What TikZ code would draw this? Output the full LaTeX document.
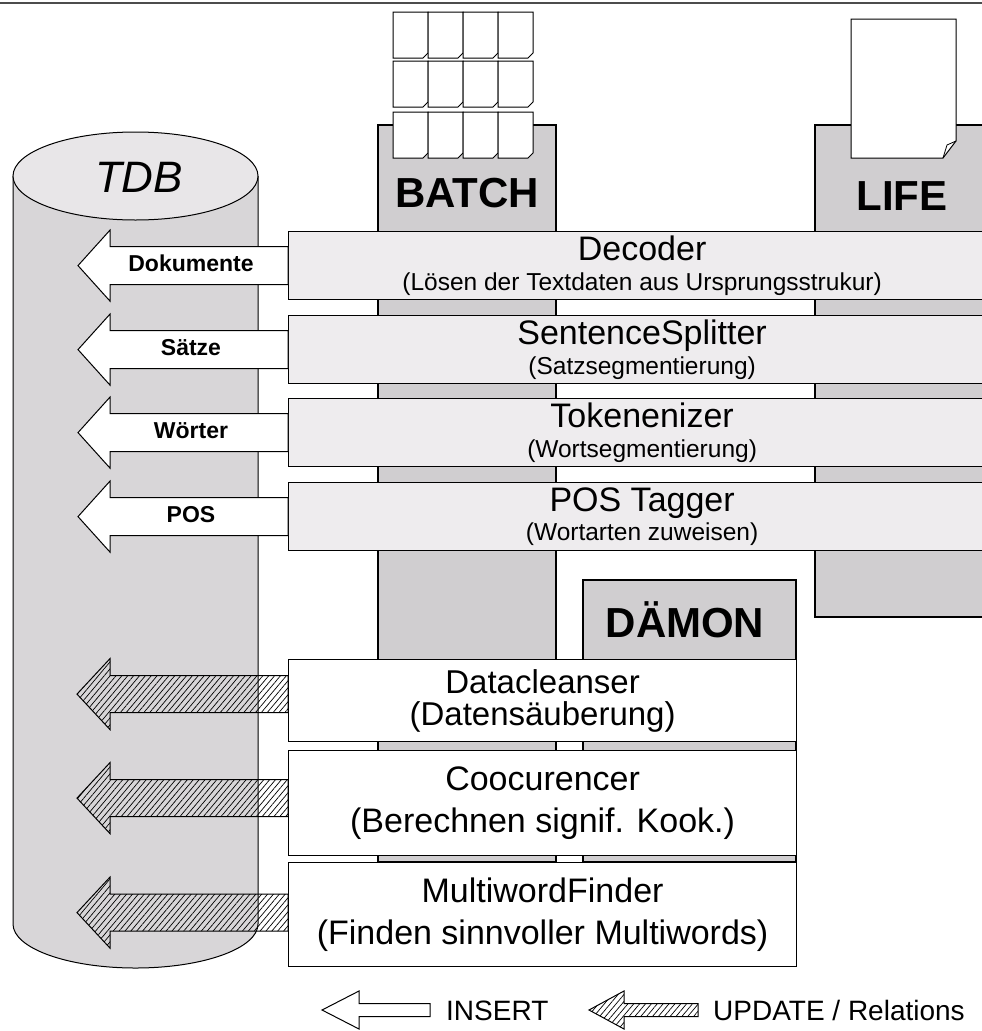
\documentclass[tikz,border=0pt]{standalone}
\usepackage{fontspec}
\setmainfont{Liberation Sans}
\usepackage{tikz}
\usetikzlibrary{patterns.meta}
\definecolor{colgray}{HTML}{D0CED0}
\definecolor{tdbbody}{HTML}{D8D6D8}
\definecolor{tdbtop}{HTML}{E8E6E8}
\definecolor{boxgray}{HTML}{EEECEE}
\tikzstyle{stage} = [draw, line width=1.2pt, fill=boxgray, anchor=north west, minimum width=707pt, minimum height=68pt, inner sep=0pt, align=center, font=\fontsize{24.5}{29.5}\selectfont]
\tikzstyle{job} = [draw, line width=1.2pt, fill=white, anchor=north west, minimum width=508pt, inner sep=0pt, align=center]
\tikzstyle{column} = [draw, line width=1.2pt, fill=colgray]
\tikzstyle{collabel} = [anchor=base, inner sep=0pt, font=\fontsize{42}{42}\selectfont\bfseries]
\tikzstyle{page} = [draw, line width=1pt, fill=white]
\tikzstyle{insert} = [draw, line width=1pt, fill=white]
\tikzstyle{update} = [draw, line width=1pt, pattern={Lines[angle=50,distance=4.5pt,line width=0.7pt]}]
\tikzstyle{flowlabel} = [anchor=base, inner sep=0pt, font=\fontsize{23}{23}\selectfont\bfseries]
\tikzstyle{legendlabel} = [anchor=base west, inner sep=0pt, font=\fontsize{28}{28}\selectfont]

\begin{document}
\begin{tikzpicture}[x=1pt, y=-1pt]
\useasboundingbox (0,0) rectangle (982,1031);
\clip (0,0) rectangle (982,1031);
\draw[gray!60!black, line width=1.5pt] (0,3) -- (982,3);

% TDB
\fill[tdbbody] (13,176) -- (13,924) arc[start angle=180, end angle=360, x radius=122.5pt, y radius=44pt] -- (258,176) -- cycle;
\draw[line width=1pt] (13,176) -- (13,924) arc[start angle=180, end angle=360, x radius=122.5pt, y radius=44pt] -- (258,176);
\draw[line width=1pt, fill=tdbtop] (135.5,176) ellipse [x radius=122.5pt, y radius=44pt];
\node[anchor=base, inner sep=0pt, font=\fontsize{44}{44}\selectfont\itshape] (tdb) at (139,192) {TDB};

% modes
\draw[column] (378,125) rectangle (556,862);
\draw[column] (815,125) rectangle (995,617);
\draw[column] (583,580) rectangle (796,862);
\node[collabel] (batch) at (467,207) {BATCH};
\node[collabel] (life) at (902,210) {LIFE};
\node[collabel] (daemon) at (685,637) {DÄMON};

\foreach \x in {393,428,463,498}
  \foreach \y in {12,61,112}
    \draw[page] (\x,\y) -- ++(35,0) -- ++(0,41) -- ++(-5,5) -- ++(-30,0) -- cycle;
\draw[page] (851,19) -- (956,19) -- (956,141) -- (943,158) -- (851,158) -- cycle;
\draw[line width=0.8pt] (956,141) -- (947,145) -- (943,158);

% stages
\node[stage] (decoder) at (288,231) {{\fontsize{34}{34}\selectfont Decoder}\\(Lösen der Textdaten aus Ursprungsstrukur)};
\node[stage] (splitter) at (288,315) {{\fontsize{34}{34}\selectfont SentenceSplitter}\\(Satzsegmentierung)};
\node[stage] (tokenizer) at (288,398) {{\fontsize{34}{34}\selectfont Tokenenizer}\\(Wortsegmentierung)};
\node[stage] (tagger) at (288,482) {{\fontsize{34}{34}\selectfont POS Tagger}\\(Wortarten zuweisen)};

\node[job, minimum height=82pt, font=\fontsize{33}{32}\selectfont] (cleanser) at (288,659) {Datacleanser\\(Datensäuberung)};
\node[job, minimum height=105pt, font=\fontsize{34}{42}\selectfont] (cooc) at (288,750) {Coocurencer\\(Berechnen signif. Kook.)};
\node[job, minimum height=104pt, font=\fontsize{34}{42}\selectfont] (finder) at (288,862) {MultiwordFinder\\(Finden sinnvoller Multiwords)};

% arrows into TDB
\foreach \b/\t in {decoder/Dokumente, splitter/Sätze, tokenizer/Wörter, tagger/POS} {
  \draw[insert] (\b.west) ++(0,-19) -- ++(-178,0) -- ++(0,-16.5) -- ++(-32,35.5) -- ++(32,35.5) -- ++(0,-16.5) -- ++(178,0) -- cycle;
  \node[flowlabel] at ([xshift=-97pt, yshift=-6pt]\b.west) {\t};
}
\foreach \b/\s in {cleanser/6.5, cooc/5, finder/2}
  \draw[update] ([yshift=\s pt]\b.west) ++(0,-18.5) -- ++(-178,0) -- ++(0,-17) -- ++(-33,35.5) -- ++(33,35.5) -- ++(0,-17) -- ++(178,0) -- cycle;

% legend
\coordinate (insertend) at (430,1010);
\coordinate (updateend) at (698,1010);
\draw[insert] (insertend) ++(0,-6.5) -- ++(-71,0) -- ++(0,-12.5) -- ++(-37,19) -- ++(37,19) -- ++(0,-12.5) -- ++(71,0) -- cycle;
\draw[update] (updateend) ++(0,-6.5) -- ++(-74,0) -- ++(0,-12.5) -- ++(-35,19) -- ++(35,19) -- ++(0,-12.5) -- ++(74,0) -- cycle;
\node[legendlabel] (insertlbl) at (446,1020) {INSERT};
\node[legendlabel] (updatelbl) at (713,1020) {UPDATE / Relations};
\end{tikzpicture}
\end{document}
